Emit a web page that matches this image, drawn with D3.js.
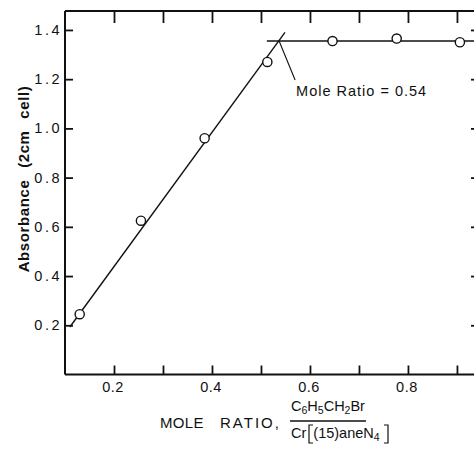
<!DOCTYPE html>
<html>
<head>
<meta charset="utf-8">
<script src="https://cdn.jsdelivr.net/npm/d3@7"></script>
<style>
  body { margin: 0; background: #fff; }
  svg { display: block; }
  text { font-family: "Liberation Sans", Arial, sans-serif; fill: #111; }
</style>
</head>
<body>
<script>
///////////////////   Data   /////////////////

var moleRatio = [0.13, 0.255, 0.385, 0.513, 0.646, 0.777, 0.906],
    absorbance = [0.245, 0.625, 0.96, 1.27, 1.355, 1.365, 1.35];

// hand drawn lines through the points: rising part and plateau
var riseLine = [[0.11, 0.193], [0.549, 1.39]],
    plateauLine = [[0.512, 1.355], [0.95, 1.355]];

var breakPoint = [0.537, 1.355],
    breakLabel = "Mole Ratio = 0.54";

var xTicks = [0.2, 0.3, 0.4, 0.5, 0.6, 0.7, 0.8, 0.9],
    xTickLabels = [0.2, 0.4, 0.6, 0.8],
    yTicks = [0.2, 0.4, 0.6, 0.8, 1.0, 1.2, 1.4];

///////////////////   Layout   /////////////////

// (window.top is read-only, so the plot edges get their own names)
var width = 474, height = 449,
    plotLeft = 65, plotRight = 479, plotTop = 11, plotBottom = 374.5;

var x = d3.scaleLinear().domain([0.1, 0.945]).range([plotLeft, plotRight]);
var y = d3.scaleLinear().domain([0, 1.477]).range([plotBottom, plotTop]);

var svg = d3.select("body").append("svg")
    .attr("width", width)
    .attr("height", height);

// frame
var ink = "#111";
svg.append("line").attr("x1", plotLeft).attr("x2", plotLeft).attr("y1", plotTop).attr("y2", plotBottom)
    .attr("stroke", ink).attr("stroke-width", 2);
svg.append("line").attr("x1", plotLeft).attr("x2", plotRight).attr("y1", plotBottom).attr("y2", plotBottom)
    .attr("stroke", ink).attr("stroke-width", 2.2);
svg.append("line").attr("x1", plotLeft).attr("x2", plotRight).attr("y1", plotTop).attr("y2", plotTop)
    .attr("stroke", ink).attr("stroke-width", 1.8);
svg.append("line").attr("x1", plotRight).attr("x2", plotRight).attr("y1", plotTop).attr("y2", plotBottom)
    .attr("stroke", ink).attr("stroke-width", 2);

// axes, ticks pointing inward
var bottomAxis = d3.axisTop(x).tickValues(xTicks).tickSize(9).tickFormat("");
svg.append("g").attr("class", "axis").attr("transform", "translate(0," + plotBottom + ")").call(bottomAxis);

var topAxis = d3.axisBottom(x).tickValues(xTicks).tickSize(12).tickFormat("");
svg.append("g").attr("class", "axis").attr("transform", "translate(0," + plotTop + ")").call(topAxis);

var leftAxis = d3.axisRight(y).tickValues(yTicks).tickSize(8).tickFormat("");
svg.append("g").attr("class", "axis").attr("transform", "translate(" + plotLeft + ",0)").call(leftAxis);

var rightAxis = d3.axisLeft(y).tickValues(yTicks).tickSize(8).tickFormat("");
svg.append("g").attr("class", "axis").attr("transform", "translate(" + plotRight + ",0)").call(rightAxis);

svg.selectAll(".axis .domain").remove();
svg.selectAll(".axis line").attr("stroke", ink).attr("stroke-width", 1.8);

// tick labels
svg.selectAll(".xlabel")
    .data(xTickLabels)
  .enter().append("text")
    .attr("class", "xlabel")
    .attr("x", function(d) { return x(d) - 1; })
    .attr("y", 392)
    .attr("text-anchor", "middle")
    .attr("font-size", 14.5)
    .style("letter-spacing", "0.5px")
    .text(function(d) { return d.toFixed(1); });

svg.selectAll(".ylabel")
    .data(yTicks)
  .enter().append("text")
    .attr("class", "ylabel")
    .attr("x", plotLeft - 3)
    .attr("y", function(d) { return y(d) + 5; })
    .attr("text-anchor", "end")
    .attr("font-size", 14.5)
    .style("letter-spacing", "2.5px")
    .text(function(d) { return d.toFixed(1); });

// fitted lines
var line = d3.line().x(function(d) { return x(d[0]); }).y(function(d) { return y(d[1]); });
svg.append("path").attr("d", line(riseLine)).attr("fill", "none").attr("stroke", ink).attr("stroke-width", 1.4);
svg.append("path").attr("d", line(plateauLine)).attr("fill", "none").attr("stroke", ink).attr("stroke-width", 1.6);

// data points
svg.selectAll(".pt")
    .data(moleRatio)
  .enter().append("circle")
    .attr("class", "pt")
    .attr("cx", function(d) { return x(d); })
    .attr("cy", function(d, i) { return y(absorbance[i]); })
    .attr("r", 4.6)
    .attr("fill", "#fff")
    .attr("stroke", ink)
    .attr("stroke-width", 1.4);

// annotation
var bx = x(breakPoint[0]), by = y(breakPoint[1]);
svg.append("line")
    .attr("x1", bx).attr("y1", by)
    .attr("x2", bx + 16).attr("y2", by + 39)
    .attr("stroke", ink).attr("stroke-width", 1.1);
svg.append("text")
    .attr("x", bx + 17).attr("y", by + 55)
    .attr("font-size", 14.5)
    .style("letter-spacing", "1px")
    .text(breakLabel);

// y axis title
svg.append("text")
    .attr("transform", "translate(29,179) rotate(-90)")
    .attr("text-anchor", "middle")
    .attr("font-size", 15)
    .attr("font-weight", "bold")
    .style("letter-spacing", "0.6px")
    .style("word-spacing", "7px")
    .text("Absorbance  (2cm cell)");

// x axis title
svg.append("text")
    .attr("x", 160).attr("y", 428)
    .attr("font-size", 15)
    .style("letter-spacing", "0.3px")
    .text("MOLE");
svg.append("text")
    .attr("x", 220).attr("y", 428)
    .attr("font-size", 15)
    .style("letter-spacing", "2px")
    .text("RATIO,");

// fraction
var num = svg.append("text").attr("x", 291).attr("y", 411).attr("font-size", 14.5);
num.append("tspan").text("C");
num.append("tspan").attr("font-size", 10.5).attr("dy", 3).text("6");
num.append("tspan").attr("dy", -3).text("H");
num.append("tspan").attr("font-size", 10.5).attr("dy", 3).text("5");
num.append("tspan").attr("dy", -3).text("CH");
num.append("tspan").attr("font-size", 10.5).attr("dy", 3).text("2");
num.append("tspan").attr("dy", -3).text("Br");

svg.append("line").attr("x1", 290).attr("x2", 366).attr("y1", 421).attr("y2", 421)
    .attr("stroke", ink).attr("stroke-width", 1.4);

var den = svg.append("text").attr("x", 291).attr("y", 438).attr("font-size", 14.5);
den.append("tspan").text("Cr");
den.append("tspan").attr("dx", 7).text("(15)aneN");
den.append("tspan").attr("font-size", 10.5).attr("dy", 3).text("4");

// tall square brackets in the denominator
svg.append("path").attr("d", "M313,425 H309 V443 H313").attr("fill", "none").attr("stroke", ink).attr("stroke-width", 1.2);
svg.append("path").attr("d", "M384,425 H388 V443 H384").attr("fill", "none").attr("stroke", ink).attr("stroke-width", 1.2);
</script>
</body>
</html>
